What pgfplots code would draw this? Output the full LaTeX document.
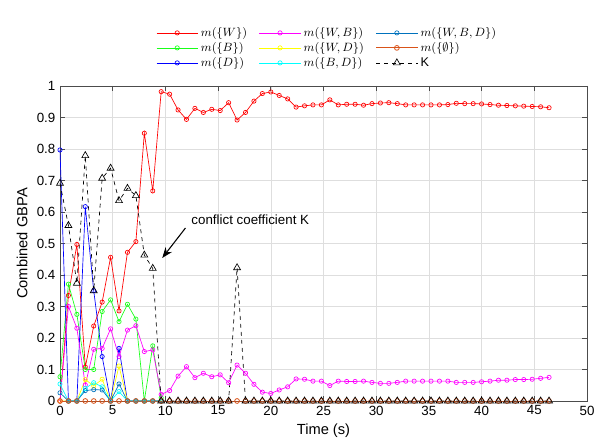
\documentclass[border=0pt]{standalone}
\usepackage{fontspec}
\setmainfont{Liberation Sans}
\usepackage{pgfplots}
\usepackage{pgfplotstable}
\pgfplotsset{compat=1.18}
\usetikzlibrary{arrows.meta}

\definecolor{cW}{rgb}{1,0,0}
\definecolor{cB}{rgb}{0.1,1,0.1}
\definecolor{cD}{rgb}{0,0,1}
\definecolor{cWB}{rgb}{1,0,1}
\definecolor{cWD}{rgb}{1,1,0}
\definecolor{cBD}{rgb}{0,1,1}
\definecolor{cWBD}{rgb}{0,0.447,0.741}
\definecolor{cE}{rgb}{0.85,0.325,0.098}
\definecolor{axgray}{rgb}{0.3,0.3,0.3}

% time step 0.8 s
\pgfplotstableread{
t    W     B     D     WB    WD    BD    WBD   E  K
0.0  0.000 0.077 0.797 0.000 0.000 0.054 0.026 0  0.691
0.8  0.335 0.371 0.000 0.300 0.000 0.000 0.000 0  0.557
1.6  0.497 0.275 0.000 0.231 0.000 0.000 0.000 0  0.374
2.4  0.108 0.100 0.617 0.051 0.068 0.040 0.033 0  0.779
3.2  0.238 0.100 0.350 0.164 0.048 0.058 0.036 0  0.350
4.0  0.314 0.284 0.141 0.167 0.069 0.045 0.035 0  0.707
4.8  0.456 0.321 0.000 0.229 0.000 0.000 0.000 0  0.739
5.6  0.286 0.252 0.167 0.141 0.111 0.030 0.054 0  0.636
6.4  0.472 0.307 0.000 0.225 0.000 0.000 0.000 0  0.675
7.2  0.506 0.260 0.000 0.239 0.000 0.000 0.000 0  0.652
8.0  0.850 0.000 0.000 0.157 0.000 0.000 0.000 0  0.463
8.8  0.667 0.175 0.000 0.162 0.000 0.000 0.000 0  0.421
9.6  0.982 0.010 0     0.021 0     0     0     0  0
10.4 0.974 0     0     0.033 0     0     0     0  0
11.2 0.924 0     0     0.079 0     0     0     0  0
12.0 0.894 0     0     0.109 0     0     0     0  0
12.8 0.929 0     0     0.074 0     0     0     0  0
13.6 0.916 0     0     0.088 0     0     0     0  0
14.4 0.926 0     0     0.077 0     0     0     0  0
15.2 0.922 0     0     0.083 0     0     0     0  0
16.0 0.947 0     0     0.058 0     0     0     0  0
16.8 0.892 0     0     0.114 0     0     0     0  0.423
17.6 0.916 0     0     0.088 0     0     0     0  0
18.4 0.952 0     0     0.053 0     0     0     0  0
19.2 0.976 0     0     0.028 0     0     0     0  0
20.0 0.981 0     0     0.024 0     0     0     0  0
20.8 0.970 0     0     0.035 0     0     0     0  0
21.6 0.959 0     0     0.045 0     0     0     0  0
22.4 0.933 0     0     0.070 0     0     0     0  0
23.2 0.937 0     0     0.069 0     0     0     0  0
24.0 0.940 0     0     0.063 0     0     0     0  0
24.8 0.940 0     0     0.063 0     0     0     0  0
25.6 0.956 0     0     0.049 0     0     0     0  0
26.4 0.940 0     0     0.063 0     0     0     0  0
27.2 0.942 0     0     0.062 0     0     0     0  0
28.0 0.942 0     0     0.062 0     0     0     0  0
28.8 0.939 0     0     0.063 0     0     0     0  0
29.6 0.944 0     0     0.059 0     0     0     0  0
30.4 0.946 0     0     0.056 0     0     0     0  0
31.2 0.947 0     0     0.056 0     0     0     0  0
32.0 0.944 0     0     0.059 0     0     0     0  0
32.8 0.940 0     0     0.063 0     0     0     0  0
33.6 0.940 0     0     0.063 0     0     0     0  0
34.4 0.940 0     0     0.063 0     0     0     0  0
35.2 0.940 0     0     0.063 0     0     0     0  0
36.0 0.940 0     0     0.063 0     0     0     0  0
36.8 0.941 0     0     0.063 0     0     0     0  0
37.6 0.945 0     0     0.059 0     0     0     0  0
38.4 0.944 0     0     0.059 0     0     0     0  0
39.2 0.944 0     0     0.059 0     0     0     0  0
40.0 0.943 0     0     0.061 0     0     0     0  0
40.8 0.941 0     0     0.063 0     0     0     0  0
41.6 0.939 0     0     0.066 0     0     0     0  0
42.4 0.938 0     0     0.066 0     0     0     0  0
43.2 0.937 0     0     0.068 0     0     0     0  0
44.0 0.936 0     0     0.068 0     0     0     0  0
44.8 0.935 0     0     0.069 0     0     0     0  0
45.6 0.934 0     0     0.072 0     0     0     0  0
46.4 0.931 0     0     0.075 0     0     0     0  0
}\data

\begin{document}
\begin{tikzpicture}
\begin{axis}[
  name=ax,
  scale only axis,
  width=395.25pt, height=236.25pt,
  xmin=0, xmax=50, ymin=0, ymax=1,
  xtick={0,5,...,50},
  ytick={0,0.1,...,1.0},
  yticklabels={0,0.1,0.2,0.3,0.4,0.5,0.6,0.7,0.8,0.9,1},
  xlabel={Time (s)},
  ylabel={Combined GBPA},
  label style={font=\fontsize{11}{13}\selectfont},
  ticklabel style={font=\fontsize{10}{12}\selectfont},
  /pgf/number format/assume math mode=true,
  grid=major,
  major grid style={draw=black!13, line width=0.4pt},
  axis line style={draw=axgray, line width=0.5pt},
  tick style={draw=axgray, line width=0.5pt},
  tick align=inside,
  major tick length=4pt,
  clip=false,
  every axis plot/.append style={line width=0.5pt, mark size=1.6pt, mark options={solid}},
  legend columns=3,
  transpose legend,
  legend cell align=left,
  legend image code/.code={\draw[mark repeat=2,mark phase=2,#1] plot coordinates {(0pt,0pt) (15.5pt,0pt) (31pt,0pt)};},
  legend style={at={(0.5,1)}, yshift=9pt, xshift=3pt, anchor=south, draw=none, fill=none,
    font=\fontsize{9.5}{11.8}\selectfont, row sep=-1pt,
    /tikz/every even column/.append style={column sep=7pt}},
]
% series that stay at zero after t = 9.6 s lie under m(empty) there
\addplot[cW, mark=o] table[x=t,y=W]{\data};
\addlegendentry{$m(\{W\})$}
\addplot[cB, mark=o, restrict x to domain=0:10] table[x=t,y=B]{\data};
\addlegendentry{$m(\{B\})$}
\addplot[cD, mark=o, restrict x to domain=0:10] table[x=t,y=D]{\data};
\addlegendentry{$m(\{D\})$}
\addplot[cWB, mark=o] table[x=t,y=WB]{\data};
\addlegendentry{$m(\{W,B\})$}
\addplot[cWD, mark=o, restrict x to domain=0:10] table[x=t,y=WD]{\data};
\addlegendentry{$m(\{W,D\})$}
\addplot[cBD, mark=o, restrict x to domain=0:10] table[x=t,y=BD]{\data};
\addlegendentry{$m(\{B,D\})$}
\addplot[cWBD, mark=o, restrict x to domain=0:10] table[x=t,y=WBD]{\data};
\addlegendentry{$m(\{W,B,D\})$}
\addplot[cE, mark=o, line width=0.6pt, mark size=1.8pt] table[x=t,y=E]{\data};
\addlegendentry{$m(\{\emptyset\})$}
\addplot[black, dashed, mark=triangle, mark size=3pt] table[x=t,y=K]{\data};
\addlegendentry{$\mathrm{K}$}
\draw[-{Stealth[length=8pt,width=6pt]}, line width=0.8pt] (axis cs:11.9,0.549) -- (axis cs:9.7,0.454);
\node[anchor=west, font=\fontsize{10}{12}\selectfont, inner sep=0pt] at (axis cs:12.45,0.575) {conflict coefficient K};
\end{axis}
\pgfresetboundingbox
\useasboundingbox ([xshift=-45pt,yshift=-32.25pt]ax.south west) rectangle ([xshift=15pt,yshift=64.5pt]ax.north east);
\end{tikzpicture}
\end{document}
